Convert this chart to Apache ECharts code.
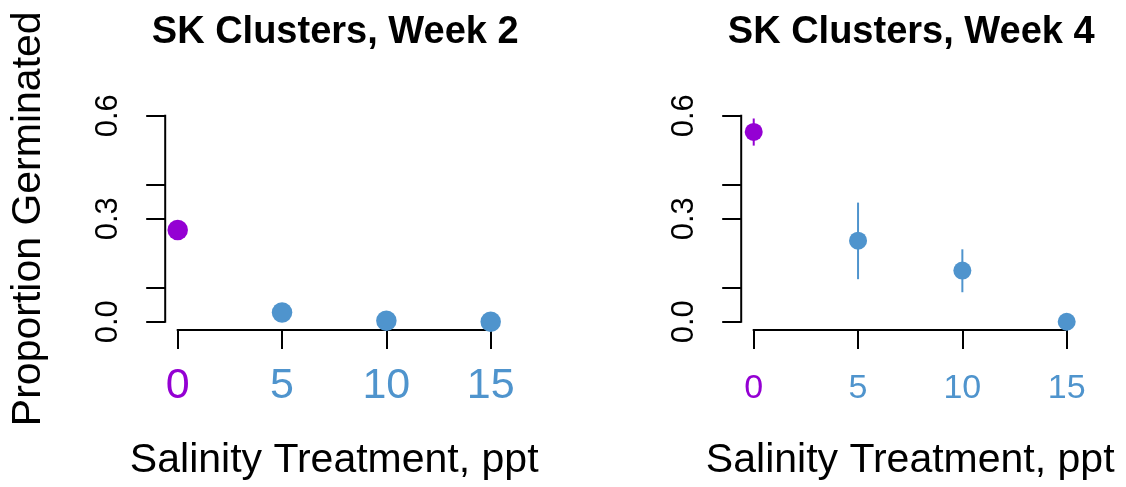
<!DOCTYPE html>
<html>
<head>
<meta charset="utf-8">
<script src="https://cdn.jsdelivr.net/npm/echarts@6/dist/echarts.min.js"></script>
<style>
html,body{margin:0;padding:0;background:#fff;}
#chart{width:1126px;height:487px;}
</style>
</head>
<body>
<div id="chart"></div>
<script>
// ---- data ----
const salinity = [0, 5, 10, 15];
const xTickLabels = ['0', '5', '10', '15'];
const yTickValues = [0, 0.1, 0.3, 0.4, 0.6];
const yLabelValues = [0, 0.3, 0.6];
const titles = ['SK Clusters, Week 2', 'SK Clusters, Week 4'];
const week2Mean = [0.267, 0.027, 0.003, 0.000];
const week2Lo = [0.255, 0.020, 0.000, 0.000];
const week2Hi = [0.280, 0.034, 0.007, 0.002];
const week4Mean = [0.553, 0.236, 0.149, 0.000];
const week4Lo = [0.513, 0.124, 0.086, 0.000];
const week4Hi = [0.592, 0.347, 0.211, 0.000];
const pointColors = ['#9400D3', '#4F94CD', '#4F94CD', '#4F94CD'];

const FONT = '"Liberation Sans", Arial, sans-serif';
const xMin = -0.6, xMax = 15.6, yMin = -0.024, yMax = 0.624;

const panels = [
  {mean: week2Mean, lo: week2Lo, hi: week2Hi, left: 165.2, tickFs: 43, tickMargin: 35, sym: 20.5},
  {mean: week4Mean, lo: week4Lo, hi: week4Hi, left: 741.2, tickFs: 34, tickMargin: 42, sym: 18}
];

const grids = [], xAxes = [], yAxes = [], series = [], titleList = [];
panels.forEach((p, i) => {
  grids.push({left: p.left, top: 107.5, width: 338, height: 222.5});
  titleList.push({
    text: titles[i], left: p.left + 165, top: 9, textAlign: 'center',
    textStyle: {fontFamily: FONT, fontWeight: 'bold', fontSize: 38, color: '#000'}
  });
  const rich = {
    c0: {color: pointColors[0], fontSize: p.tickFs, fontFamily: FONT},
    c1: {color: pointColors[1], fontSize: p.tickFs, fontFamily: FONT}
  };
  xAxes.push({
    type: 'value', gridIndex: i, min: xMin, max: xMax,
    name: 'Salinity Treatment, ppt', nameLocation: 'middle', nameGap: 110,
    nameTextStyle: {fontFamily: FONT, fontSize: 41, color: '#000'},
    axisLine: {show: false, onZero: false},
    axisTick: {show: true, customValues: salinity, length: 19, lineStyle: {color: '#000', width: 2}},
    axisLabel: {
      customValues: salinity, margin: p.tickMargin,
      formatter: v => {
        const k = salinity.indexOf(v);
        return '{' + (k === 0 ? 'c0' : 'c1') + '|' + xTickLabels[k] + '}';
      },
      rich: rich
    },
    splitLine: {show: false}
  });
  yAxes.push({
    type: 'value', gridIndex: i, min: yMin, max: yMax,
    name: i === 0 ? 'Proportion Germinated' : '', nameLocation: 'middle', nameGap: 116,
    nameTextStyle: {fontFamily: FONT, fontSize: 41, color: '#000'},
    axisLine: {show: false, onZero: false},
    axisTick: {show: true, customValues: yTickValues, length: 19, lineStyle: {color: '#000', width: 2}},
    axisLabel: {
      customValues: yLabelValues, rotate: 90, margin: 41,
      fontFamily: FONT, fontSize: 31, color: '#000',
      formatter: v => Number(v).toFixed(1)
    },
    splitLine: {show: false}
  });
  // R-style axis lines (span only tick range)
  series.push({
    type: 'custom', xAxisIndex: i, yAxisIndex: i, silent: true,
    data: [[0]],
    renderItem: (params, api) => {
      const a = api.coord([salinity[0], yMin]);
      const b = api.coord([salinity[salinity.length - 1], yMin]);
      const c = api.coord([xMin, yTickValues[0]]);
      const d = api.coord([xMin, yTickValues[yTickValues.length - 1]]);
      return {type: 'group', children: [
        {type: 'line', shape: {x1: a[0] - 1, y1: a[1], x2: b[0] + 1, y2: b[1]}, style: {stroke: '#000', lineWidth: 2}},
        {type: 'line', shape: {x1: c[0], y1: c[1] + 1, x2: d[0], y2: d[1] - 1}, style: {stroke: '#000', lineWidth: 2}}
      ]};
    }
  });
  // error bars
  series.push({
    type: 'custom', xAxisIndex: i, yAxisIndex: i, silent: true,
    data: salinity.map((x, k) => [x, p.lo[k], p.hi[k]]),
    renderItem: (params, api) => {
      const lo = api.coord([api.value(0), api.value(1)]);
      const hi = api.coord([api.value(0), api.value(2)]);
      return {type: 'line', shape: {x1: lo[0], y1: lo[1], x2: hi[0], y2: hi[1]},
        style: {stroke: pointColors[params.dataIndex], lineWidth: 2}};
    }
  });
  // points
  series.push({
    type: 'scatter', xAxisIndex: i, yAxisIndex: i, symbol: 'circle', symbolSize: p.sym,
    data: salinity.map((x, k) => [x, p.mean[k]]),
    itemStyle: {color: params => pointColors[params.dataIndex], opacity: 1},
    z: 5
  });
});

const chart = echarts.init(document.getElementById('chart'), null, {renderer: 'canvas'});
chart.setOption({
  backgroundColor: '#fff',
  animation: false,
  title: titleList,
  grid: grids,
  xAxis: xAxes,
  yAxis: yAxes,
  series: series
});
</script>
</body>
</html>
